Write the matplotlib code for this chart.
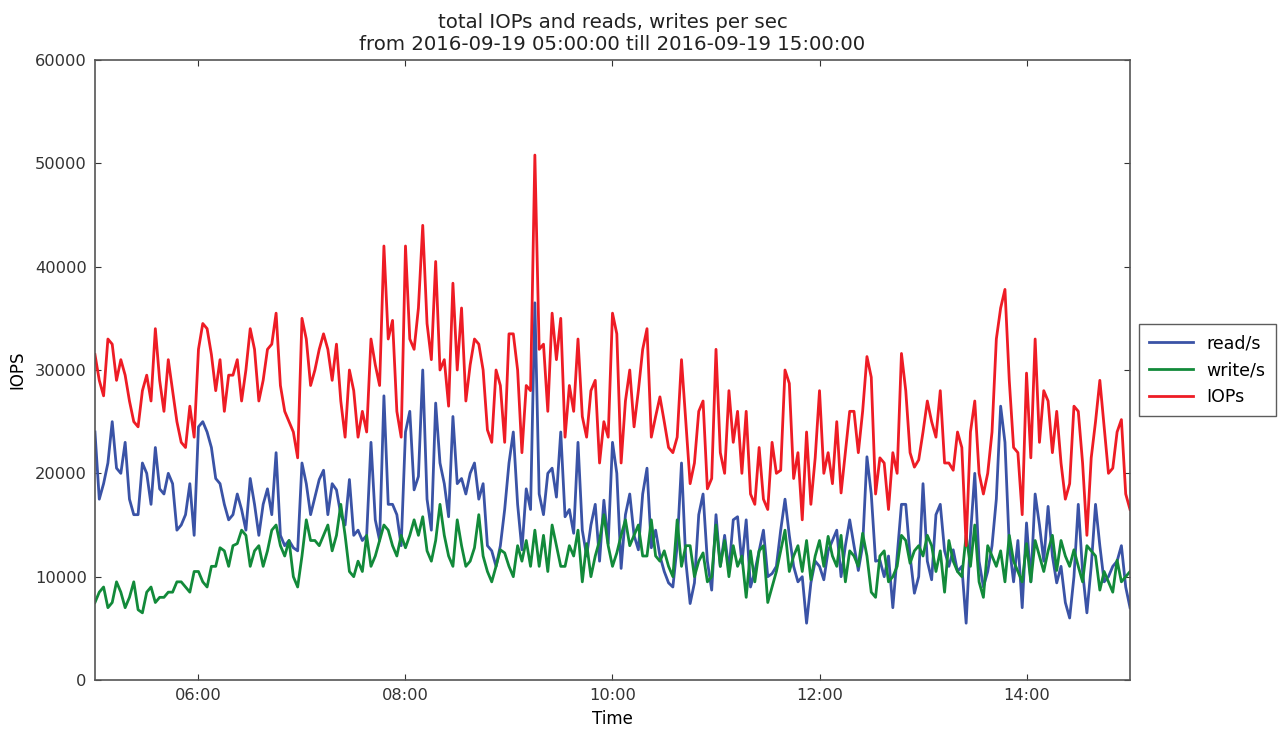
import matplotlib
matplotlib.use("Agg")
import matplotlib.pyplot as plt
import matplotlib.dates as mdates
import pandas as pd

# samples every 2.5 minutes from 05:00 to 15:00, values in thousands of IO/s
# (one row per two hours)
start = "2016-09-19 05:00:00"
end = "2016-09-19 15:00:00"

reads_k = [
    24, 17.5, 19, 21, 25, 20.5, 20, 23, 17.5, 16, 16, 21, 20, 17, 22.5, 18.5, 18, 20, 19, 14.5, 15, 16, 19, 14,
    24.5, 25, 24, 22.5, 19.5, 19, 17, 15.5, 16, 18, 16.5, 14.5, 19.5, 17, 14, 17, 18.5, 16, 22, 14, 13, 13.5, 12.8, 12.5,
    # 07:00
    21, 19, 16, 17.7, 19.4, 20.3, 16, 19, 18.4, 16, 15, 19.4, 14, 14.5, 13.5, 14, 23, 15.5, 13.5, 27.5, 17, 17, 16, 13,
    24, 26, 18.4, 19.7, 30, 17.5, 14.5, 26.8, 21, 19, 15.8, 25.5, 19, 19.5, 18, 20, 21, 17.5, 19, 13, 12.5, 11, 13, 16.5,
    # 09:00
    21, 24, 17, 12.6, 18.5, 16.5, 36.5, 18, 16, 20, 20.5, 17.7, 24, 15.8, 16.5, 14.2, 23, 14.5, 12, 15, 17, 11.5, 17.4, 13.2,
    23, 20, 10.8, 16, 18, 14, 12.6, 18, 20.5, 12.8, 14.5, 12, 10.5, 9.4, 9, 13, 21, 11.5, 7.4, 9.4, 16, 18, 11.5, 8.7,
    # 11:00
    16, 11, 14, 10.6, 15.5, 15.8, 11.3, 15.5, 9, 10.5, 12.5, 14.5, 10, 10.3, 11, 14.5, 17.5, 14, 11, 9.5, 10, 5.5, 9.4, 11.5,
    11, 9.7, 12.5, 13.5, 14.5, 10, 13, 15.5, 13, 10.6, 13, 21.6, 18, 11.5, 11.6, 10, 12, 7, 12, 17, 17, 12, 8.4, 10,
    # 13:00
    19, 11.5, 9.7, 16, 17, 12.5, 11, 12.6, 10.5, 11, 5.5, 14, 20, 11.5, 9, 10.5, 13, 17.5, 26.5, 23, 13, 9.5, 13.5, 7,
    15.2, 9.5, 18, 15, 11.5, 16.8, 12, 9.4, 11, 7.5, 6, 10, 17, 10.5, 6.5, 11, 17, 13, 9.5, 10, 11, 11.5, 13, 9,
    7,
]

writes_k = [
    7.5, 8.5, 9, 7, 7.5, 9.5, 8.5, 7, 8, 9.5, 6.8, 6.5, 8.5, 9, 7.5, 8, 8, 8.5, 8.5, 9.5, 9.5, 9, 8.5, 10.5,
    10.5, 9.5, 9, 11, 11, 12.8, 12.5, 11, 13, 13.2, 14.5, 14, 11, 12.5, 13, 11, 12.5, 14.5, 15, 13, 12, 13.5, 10, 9,
    # 07:00
    12, 15.5, 13.5, 13.5, 13, 14, 15, 12.5, 14, 17, 14, 10.5, 10, 11.5, 10.5, 14, 11, 12, 13.5, 15, 14.5, 13, 12, 14,
    12.8, 14, 15.5, 14, 15.8, 12.5, 11.5, 13.5, 17, 14, 12, 11, 15.5, 13, 11, 11.5, 12.8, 16, 12, 10.5, 9.5, 11, 12.6, 12.3,
    # 09:00
    11, 10, 13, 11.5, 13.5, 11, 14.5, 11, 14, 10.5, 15, 13, 11, 11, 13, 12, 14.5, 9.5, 13.2, 10, 12, 13.5, 16, 13,
    11, 12.3, 14, 15.5, 13, 14, 15, 12, 12, 15.5, 12, 11.5, 12.5, 11, 10, 15.5, 11, 13, 13, 10, 11.5, 12.3, 9.5, 10,
    # 11:00
    15, 11, 13.5, 10, 13, 11, 12, 8, 12.5, 9.5, 12.5, 13, 7.5, 9, 10.5, 12.5, 14.5, 10.5, 12, 13, 10.5, 13.5, 9.7, 12,
    13.5, 11, 13.9, 12, 11, 14, 9.5, 12.5, 12, 11, 14.2, 12, 8.5, 8, 12, 12.5, 9.5, 10, 11, 14, 13.5, 11.3, 12.5, 13,
    # 13:00
    12, 14, 13, 10.5, 12.5, 8.5, 13.5, 11.5, 10.5, 10, 14, 11, 15, 9.5, 8, 13, 12, 11, 12.5, 9.5, 14, 11.5, 10.5, 9.5,
    13.2, 9.5, 13.5, 12, 10.5, 12.5, 14, 10.6, 13.5, 12, 11, 12.6, 11, 9.5, 13, 12.5, 12, 8.7, 10.5, 9.5, 8.5, 11.6, 9.5, 10,
    10.5,
]

iops_k = [
    31.5, 29, 27.5, 33, 32.5, 29, 31, 29.5, 27, 25, 24.5, 28, 29.5, 27, 34, 29, 26, 31, 28, 25, 23, 22.5, 26.5, 23.5,
    32, 34.5, 34, 31.5, 28, 31, 26, 29.5, 29.5, 31, 27, 30, 34, 32, 27, 29, 32, 32.5, 35.5, 28.5, 26, 25, 24, 21.5,
    # 07:00
    35, 33, 28.5, 30, 32, 33.5, 32, 29, 32.5, 27, 23.5, 30, 28, 23.5, 26, 24, 33, 30.5, 28.5, 42, 33, 34.8, 26, 23.5,
    42, 33, 32, 36, 44, 34.5, 31, 40.5, 30, 31, 26.5, 38.4, 30, 36, 27, 30.5, 33, 32.5, 30, 24.2, 23, 30, 28.5, 23,
    # 09:00
    33.5, 33.5, 30, 22, 28.5, 28, 50.8, 32, 32.5, 26, 35.5, 31, 35, 23.5, 28.5, 26, 33, 25.5, 23.5, 28, 29, 21, 25, 23.5,
    35.5, 33.5, 21, 27, 30, 24.5, 28, 32, 34, 23.5, 25.5, 27.4, 25, 22.5, 22, 23.5, 31, 25, 19, 21, 26, 27, 18.5, 19.5,
    # 11:00
    32, 22, 20, 28, 23, 26, 20, 26, 18, 17, 22.5, 17.5, 16.5, 23, 20, 20.3, 30, 28.7, 19.5, 22, 15.5, 24, 17, 21.5,
    28, 20, 22, 19, 25, 18.1, 22, 26, 26, 22, 26, 31.3, 29.3, 18, 21.5, 21, 16.5, 22, 20, 31.6, 28, 22, 20.6, 21.3,
    # 13:00
    24, 27, 25, 23.5, 28, 21, 21, 20.3, 24, 22.5, 13, 24, 27, 20, 18, 20, 24, 33, 36, 37.8, 29, 22.5, 22, 16,
    29.7, 21.5, 33, 23, 28, 27, 22, 26, 21, 17.5, 19, 26.5, 26, 21, 14, 21.5, 25, 29, 24.5, 20, 20.5, 24, 25.2, 18,
    16.5,
]

times = pd.date_range(start, end, freq="150s")
reads = [v * 1000 for v in reads_k]
writes = [v * 1000 for v in writes_k]
iops = [v * 1000 for v in iops_k]

plt.rcParams["font.family"] = ["DejaVu Sans"]
plt.rcParams["xtick.direction"] = "in"
plt.rcParams["ytick.direction"] = "in"

fig = plt.figure(figsize=(12.85, 7.29), dpi=100)
ax = fig.add_axes([0.0739, 0.0672, 0.8055, 0.8505])

ax.plot(times, reads, color="#3a53a6", lw=2.0, label="read/s")
ax.plot(times, writes, color="#128a3a", lw=2.0, label="write/s")
ax.plot(times, iops, color="#ee1c25", lw=2.0, label="IOPs")

ax.set_xlim(pd.Timestamp(start), pd.Timestamp(end))
ax.set_ylim(0, 60000)
ax.xaxis.set_major_locator(mdates.HourLocator(byhour=range(6, 15, 2)))
ax.xaxis.set_major_formatter(mdates.DateFormatter("%H:%M"))
ax.tick_params(labelsize=11.7, colors="#333333", length=4, top=True, right=True, pad=6)
for side in ax.spines.values():
    side.set_color("#555555")
    side.set_linewidth(1.2)

ax.set_xlabel("Time", fontsize=12, labelpad=5)
ax.set_ylabel("IOPS", fontsize=12, labelpad=6)
ax.set_title("total IOPs and reads, writes per sec\nfrom 2016-09-19 05:00:00 till 2016-09-19 15:00:00",
             fontsize=14.2, color="#222222", pad=7)

leg = ax.legend(loc="center left", bbox_to_anchor=(1.0, 0.5), fontsize=12.5,
                fancybox=False, handlelength=2.5, borderpad=0.6)
leg.get_frame().set_edgecolor("#333333")

fig.savefig("out.png", dpi=100, facecolor="white")
